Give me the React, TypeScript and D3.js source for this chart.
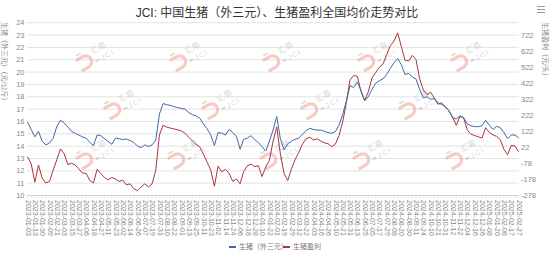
import * as d3 from 'd3';

// x-axis labels (every 8th trading day)
const dateLabels = [
  '2023-01-03', '2023-01-13', '2023-01-30', '2023-02-09', '2023-02-21', '2023-03-03', '2023-03-15', '2023-03-27',
  '2023-04-06', '2023-04-18', '2023-04-27', '2023-05-11', '2023-05-23', '2023-06-02', '2023-06-14', '2023-06-26',
  '2023-07-07', '2023-07-19', '2023-07-31', '2023-08-10', '2023-08-22', '2023-09-01', '2023-09-13', '2023-09-25',
  '2023-10-11', '2023-10-23', '2023-11-02', '2023-11-14', '2023-11-24', '2023-12-06', '2023-12-18', '2023-12-28',
  '2024-01-10', '2024-01-22', '2024-02-01', '2024-02-19', '2024-02-29', '2024-03-12', '2024-03-22', '2024-04-03',
  '2024-04-16', '2024-04-26', '2024-05-10', '2024-05-21', '2024-05-31', '2024-06-13', '2024-06-25', '2024-07-05',
  '2024-07-17', '2024-07-29', '2024-08-08', '2024-08-20', '2024-08-30', '2024-09-11', '2024-09-24', '2024-10-10',
  '2024-10-21', '2024-10-31', '2024-11-12', '2024-11-22', '2024-12-04', '2024-12-16', '2024-12-26', '2025-01-08',
  '2025-01-20', '2025-02-06', '2025-02-17', '2025-02-27',
];

// 生猪（外三元） 元/公斤, one value every 4 trading days
const hogPrice = [
  15.95, 15.35, 14.75, 15.2, 14.4, 14.1, 14.25, 14.65, 15.6, 16.1,
  15.9, 15.55, 15.2, 15.04, 14.9, 14.75, 14.65, 14.3, 14.05, 14.9,
  14.85, 14.6, 14.38, 14.15, 14.65, 14.6, 14.52, 14.58, 14.45, 14.3,
  14.0, 13.88, 14.1, 13.96, 14.1, 14.5, 16.6, 17.45, 17.35, 17.3,
  17.2, 17.12, 17.05, 17.0, 16.72, 16.55, 16.45, 16.25, 15.8, 15.4,
  14.9, 14.05, 15.1, 15.05, 14.9, 15.35, 15.1, 14.8, 13.75, 14.55,
  14.65, 14.85, 14.52, 14.3, 13.95, 13.6, 14.4, 15.3, 16.4, 14.6,
  13.7, 14.2, 14.4, 14.55, 14.65, 14.95, 15.25, 15.45, 15.35, 15.3,
  15.3, 15.2, 15.1, 15.04, 15.17, 15.7, 16.55, 17.65, 18.9, 18.75,
  19.2, 18.5, 17.7, 18.0, 18.6, 19.1, 19.3, 19.45, 19.8, 20.3,
  20.75, 21.1, 20.6, 19.8, 19.9, 19.6, 19.45, 18.6, 17.9, 18.0,
  17.8, 17.85, 17.5, 17.38, 17.2, 16.85, 16.3, 16.2, 16.45, 16.3,
  15.8, 15.65, 15.58, 15.58, 15.65, 16.1, 15.7, 15.35, 15.6, 15.5,
  15.1, 14.6, 14.9, 14.9, 14.65,
];

// 生猪盈利 元/头
const hogProfit = [
  -36, -80, -195, -88, -170, -200, -190, -120, -55, 12,
  -18, -85, -77, -88, -112, -138, -140, -185, -200, -115,
  -142, -165, -180, -166, -175, -190, -183, -212, -205, -235,
  -248, -225, -205, -225, -205, -120, 100, 160, 148, 142,
  137, 131, 124, 110, 85, 62, 40, 25, -20, -70,
  -120, -220, -95, -130, -115, -140, -190, -175, -205, -128,
  -93, -82, -98, -92, -160, -100, -60, 60, 150, -20,
  -140, -185, -115, -55, -10, 42, 75, 85, 68, 75,
  62, 50, 45, 26, 42, 95, 180, 300, 442, 470,
  465, 370, 312, 369, 455, 488, 522, 540, 600, 655,
  685, 736, 650, 565, 560, 595, 570, 450, 379, 350,
  365, 330, 290, 300, 273, 250, 210, 160, 215, 205,
  130, 104, 96, 88, 80, 145, 115, 100, 90, 70,
  10, -24, 35, 30, -5,
];

const leftTicks = [10, 11, 12, 13, 14, 15, 16, 17, 18, 19, 20, 21, 22, 23, 24];
const rightTicks = [-278, -178, -78, 22, 122, 222, 322, 422, 522, 622, 722];

const TITLE = 'JCI: 中国生猪（外三元）、生猪盈利全国均价走势对比';
const LEFT_NAME = '生猪（外三元）（元/公斤）';
const RIGHT_NAME = '生猪盈利（元/头）';
const SERIES_NAMES = ['生猪（外三元）', '生猪盈利'];

const BLUE = '#3f68a6';
const RED = '#a9363a';
const FONT = '"Liberation Sans", "Noto Sans CJK SC", sans-serif';

const width = 554;
const height = 255;
const STEP = 4; // trading days between stored points
const LABEL_STEP = 8;
const lastIndex = (hogPrice.length - 1) * STEP;

function Watermark({ x, y }: { x: number; y: number }) {
  return (
    <g transform={`translate(${x},${y}) rotate(-30)`} opacity={0.55}>
      <path d="M-2,-5 h8 a6,6 0 0 1 0,12 h-8" fill="none" stroke="#f2a295" strokeWidth={3.2} />
      <line x1={1} y1={-9} x2={6} y2={-9} stroke="#9fd49a" strokeWidth={1.6} />
      <text x={16} y={-2} fontSize={8} fill="#b9b9b9" fontFamily={FONT}>汇易</text>
      <rect x={15} y={4.5} width={4} height={2} fill="#b9b9b9" />
      <text x={21} y={8} fontSize={7} fill="#b9b9b9" fontFamily={FONT} letterSpacing={1.5}>JCI</text>
    </g>
  );
}

export default function App() {
  const x = d3.scaleLinear().domain([0, lastIndex]).range([27.5, 518.6]);
  const yL = d3.scaleLinear().domain([10, 24]).range([195.5, 22.7]);
  const unit = (195.5 - 22.7) / 14;
  const yR = d3.scaleLinear().domain([-278, 722]).range([195.5, 195.5 - 13 * unit]);

  const priceLine = d3
    .line<number>()
    .x((_, i) => x(i * STEP))
    .y(d => yL(d));
  const profitLine = d3
    .line<number>()
    .x((_, i) => x(i * STEP))
    .y(d => yR(d));

  const wmRows = [
    { y: 64, xs: [80, 174, 267, 362, 455] },
    { y: 112, xs: [108, 206, 305, 403] },
    { y: 162, xs: [80, 172, 264, 357, 450] },
  ];

  const tickIdx = d3.range(0, lastIndex + 1, STEP);

  return (
    <svg width={width} height={height} style={{ position: 'absolute', left: 0, top: 0, background: '#fff' }}>
      <text x={277} y={17} textAnchor="middle" fontSize={12} fill="#333" fontFamily={FONT}>
        {TITLE}
      </text>

      {/* toolbox icon */}
      <g stroke="#999" strokeWidth={1}>
        <line x1={537} y1={6.5} x2={545} y2={6.5} />
        <line x1={537} y1={9.5} x2={545} y2={9.5} />
        <line x1={537} y1={12.5} x2={545} y2={12.5} />
      </g>

      {/* grid */}
      {leftTicks.map(t => (
        <line key={t} x1={27} x2={518.6} y1={yL(t)} y2={yL(t)} stroke={t === 10 ? '#cfcfcf' : '#e3e3e3'} strokeWidth={1} />
      ))}
      {tickIdx.map(i => (
        <line key={i} x1={x(i)} x2={x(i)} y1={195.5} y2={198.5} stroke="#d5d5d5" strokeWidth={0.6} />
      ))}

      {wmRows.map(r => r.xs.map(wx => <Watermark key={`${r.y}-${wx}`} x={wx} y={r.y} />))}

      {/* left axis */}
      {leftTicks.map(t => (
        <text key={t} x={24.5} y={yL(t)} dy="0.35em" textAnchor="end" fontSize={7.5} fill="#888" fontFamily={FONT}>
          {t}
        </text>
      ))}
      <text transform="translate(4,22) rotate(90)" fontSize={7} fill="#888" fontFamily={FONT} dominantBaseline="middle">
        {LEFT_NAME}
      </text>

      {/* right axis */}
      {rightTicks.map(t => (
        <text key={t} x={521} y={yR(t)} dy="0.35em" textAnchor="start" fontSize={7.5} fill="#888" fontFamily={FONT}>
          {t}
        </text>
      ))}
      <text transform="translate(545,22) rotate(90)" fontSize={7} fill="#888" fontFamily={FONT} dominantBaseline="middle">
        {RIGHT_NAME}
      </text>

      {/* x labels */}
      {dateLabels.map((d, j) => (
        <text
          key={d}
          transform={`translate(${x(j * LABEL_STEP)},200) rotate(90)`}
          fontSize={7}
          fill="#888"
          fontFamily={FONT}
          dominantBaseline="middle"
        >
          {d}
        </text>
      ))}

      {/* series */}
      <path d={profitLine(hogProfit) ?? ''} fill="none" stroke={RED} strokeWidth={1} />
      <path d={priceLine(hogPrice) ?? ''} fill="none" stroke={BLUE} strokeWidth={1} />

      {/* legend */}
      <g fontFamily={FONT} fontSize={7} fill="#777">
        <line x1={229} x2={236} y1={247} y2={247} stroke={BLUE} strokeWidth={2} />
        <text x={239} y={247} dominantBaseline="middle">{SERIES_NAMES[0]}</text>
        <line x1={283} x2={290} y1={247} y2={247} stroke={RED} strokeWidth={2} />
        <text x={293} y={247} dominantBaseline="middle">{SERIES_NAMES[1]}</text>
      </g>
    </svg>
  );
}
